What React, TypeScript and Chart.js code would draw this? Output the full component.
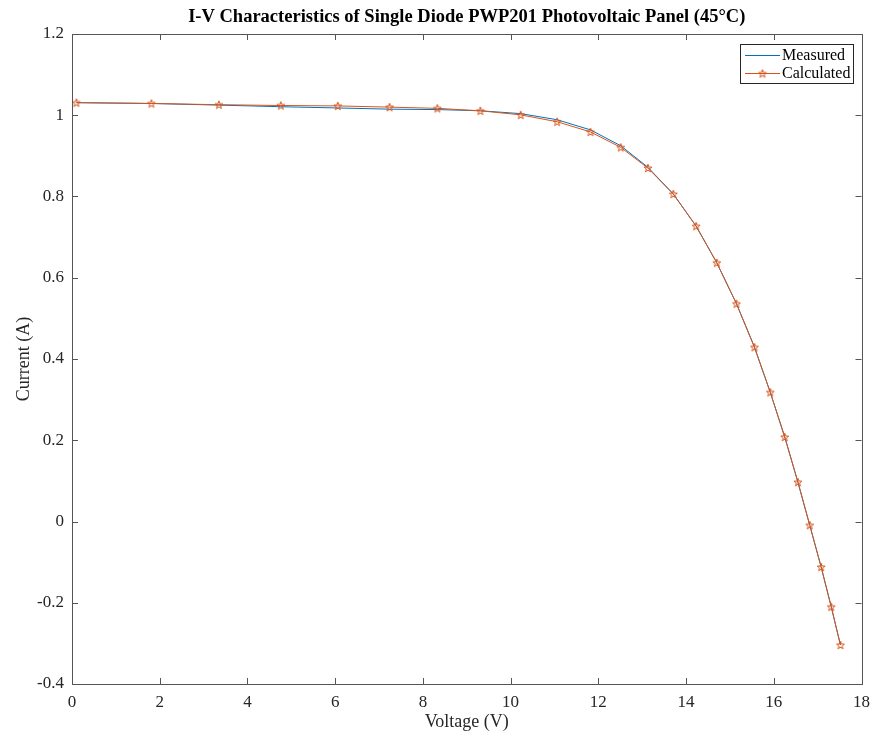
import React, { useEffect, useRef } from "react";
import { Chart, registerables } from "chart.js";

Chart.register(...registerables);

const TITLE = "I-V Characteristics of Single Diode PWP201 Photovoltaic Panel (45°C)";
const X_LABEL = "Voltage (V)";
const Y_LABEL = "Current (A)";
const SERIES_NAMES = ["Measured", "Calculated"];

const voltage = [
  0.10, 1.81, 3.35, 4.76, 6.06, 7.24, 8.33, 9.31, 10.23, 11.06, 11.82, 12.51, 13.13,
  13.71, 14.23, 14.70, 15.15, 15.56, 15.92, 16.25, 16.55, 16.82, 17.08, 17.31, 17.52,
];
const measuredCurrent = [
  1.031, 1.029, 1.025, 1.021, 1.018, 1.015, 1.014, 1.011, 1.004, 0.989, 0.964, 0.925, 0.872,
  0.806, 0.727, 0.637, 0.536, 0.429, 0.318, 0.208, 0.097, -0.009, -0.112, -0.210, -0.304,
];
const calculatedCurrent = [
  1.031, 1.029, 1.026, 1.024, 1.023, 1.020, 1.017, 1.011, 1.001, 0.984, 0.959, 0.921, 0.870,
  0.806, 0.727, 0.637, 0.536, 0.429, 0.318, 0.208, 0.097, -0.009, -0.112, -0.210, -0.304,
];
const xTicks = [0, 2, 4, 6, 8, 10, 12, 14, 16, 18];
const yTicks = [-0.4, -0.2, 0, 0.2, 0.4, 0.6, 0.8, 1, 1.2];

const BLUE = "#0072BD";
const ORANGE = "#D95319";
const AXIS = "#262626";
const BOX = "#555555";
const FONT = "'Liberation Serif', 'Times New Roman', serif";

function makeStar(color: string, R: number): HTMLCanvasElement {
  const size = Math.ceil(R * 2 + 3);
  const c = document.createElement("canvas");
  c.width = size;
  c.height = size;
  const ctx = c.getContext("2d")!;
  const cx = size / 2;
  const cy = size / 2 + 0.4;
  ctx.beginPath();
  for (let i = 0; i < 10; i++) {
    const a = -Math.PI / 2 + (i * Math.PI) / 5;
    const r = i % 2 === 0 ? R : R * 0.4;
    const px = cx + r * Math.cos(a);
    const py = cy + r * Math.sin(a);
    if (i === 0) ctx.moveTo(px, py);
    else ctx.lineTo(px, py);
  }
  ctx.closePath();
  ctx.strokeStyle = color;
  ctx.lineWidth = 1;
  ctx.stroke();
  return c;
}

export default function App() {
  const ref = useRef<HTMLCanvasElement | null>(null);

  useEffect(() => {
    if (!ref.current) return;
    const star = makeStar(ORANGE, 4.2);

    const framePlugin = {
      id: "matlabFrame",
      afterDraw(chart: any) {
        const { ctx, chartArea } = chart;
        const { left, right, top, bottom } = chartArea;
        const xs = chart.scales.x;
        const ys = chart.scales.y;
        ctx.save();
        // box
        ctx.strokeStyle = BOX;
        ctx.lineWidth = 1;
        ctx.strokeRect(Math.round(left) + 0.5, Math.round(top) + 0.5, Math.round(right - left), Math.round(bottom - top));
        // inward ticks
        const tl = 6;
        ctx.beginPath();
        xTicks.forEach((v) => {
          const px = Math.round(xs.getPixelForValue(v)) + 0.5;
          ctx.moveTo(px, bottom);
          ctx.lineTo(px, bottom - tl);
          ctx.moveTo(px, top);
          ctx.lineTo(px, top + tl);
        });
        yTicks.forEach((v) => {
          const py = Math.round(ys.getPixelForValue(v)) + 0.5;
          ctx.moveTo(left, py);
          ctx.lineTo(left + tl, py);
          ctx.moveTo(right, py);
          ctx.lineTo(right - tl, py);
        });
        ctx.stroke();

        // title
        ctx.fillStyle = "#000";
        ctx.font = `bold 18.5px ${FONT}`;
        ctx.textAlign = "center";
        ctx.textBaseline = "middle";
        ctx.fillText(TITLE, (left + right) / 2, 17);

        // legend
        const lx = 740.5, ly = 44.5, lw = 113, lh = 39;
        ctx.fillStyle = "#fff";
        ctx.fillRect(lx, ly, lw, lh);
        ctx.strokeStyle = AXIS;
        ctx.strokeRect(lx, ly, lw, lh);
        const rows = [
          { name: SERIES_NAMES[0], color: BLUE, y: 55.5, marker: false },
          { name: SERIES_NAMES[1], color: ORANGE, y: 73.5, marker: true },
        ];
        ctx.font = `16px ${FONT}`;
        ctx.textAlign = "left";
        rows.forEach((r) => {
          ctx.strokeStyle = r.color;
          ctx.beginPath();
          ctx.moveTo(745, r.y);
          ctx.lineTo(780, r.y);
          ctx.stroke();
          if (r.marker) {
            ctx.drawImage(star, 762.5 - star.width / 2, r.y - star.height / 2);
          }
          ctx.fillStyle = "#000";
          ctx.fillText(r.name, 782, r.y + 0.5);
        });
        ctx.restore();
      },
    };

    const chart = new Chart(ref.current, {
      type: "line",
      data: {
        datasets: [
          {
            label: SERIES_NAMES[0],
            data: voltage.map((v, i) => ({ x: v, y: measuredCurrent[i] })),
            borderColor: BLUE,
            backgroundColor: BLUE,
            borderWidth: 1,
            pointRadius: 0,
            tension: 0,
            order: 2,
          },
          {
            label: SERIES_NAMES[1],
            data: voltage.map((v, i) => ({ x: v, y: calculatedCurrent[i] })),
            borderColor: ORANGE,
            backgroundColor: ORANGE,
            borderWidth: 1,
            pointStyle: star as any,
            pointRadius: 4,
            tension: 0,
            order: 1,
          },
        ],
      },
      options: {
        animation: false,
        responsive: false,
        devicePixelRatio: 1,
        layout: { padding: { left: 0, right: 15, top: 34, bottom: 0 } },
        plugins: {
          legend: { display: false },
          tooltip: { enabled: false },
          title: { display: false },
        },
        scales: {
          x: {
            type: "linear",
            min: 0,
            max: 18,
            afterFit: (s: any) => {
              s.height = 52;
            },
            afterBuildTicks: (s: any) => {
              s.ticks = xTicks.map((v) => ({ value: v }));
            },
            grid: { display: false, drawTicks: false },
            border: { display: false },
            ticks: {
              padding: 8,
              color: AXIS,
              font: { family: FONT, size: 17 },
              maxRotation: 0,
              callback: (v: any) => String(v),
            },
            title: {
              display: true,
              text: X_LABEL,
              color: AXIS,
              font: { family: FONT, size: 18 },
              padding: { top: 0, bottom: 3 },
            },
          },
          y: {
            type: "linear",
            min: -0.4,
            max: 1.2,
            afterFit: (s: any) => {
              s.width = 72;
            },
            afterBuildTicks: (s: any) => {
              s.ticks = yTicks.map((v) => ({ value: v }));
            },
            grid: { display: false, drawTicks: false },
            border: { display: false },
            ticks: {
              padding: 8,
              color: AXIS,
              font: { family: FONT, size: 17 },
              callback: (v: any) => String(Number(Number(v).toFixed(1))),
            },
            title: {
              display: true,
              text: Y_LABEL,
              color: AXIS,
              font: { family: FONT, size: 18 },
              padding: { top: 13, bottom: 0 },
            },
          },
        },
      },
      plugins: [framePlugin],
    });

    return () => chart.destroy();
  }, []);

  return (
    <div style={{ position: "fixed", left: 0, top: 0, width: 878, height: 736, background: "#fff" }}>
      <canvas ref={ref} width={878} height={736} />
    </div>
  );
}
